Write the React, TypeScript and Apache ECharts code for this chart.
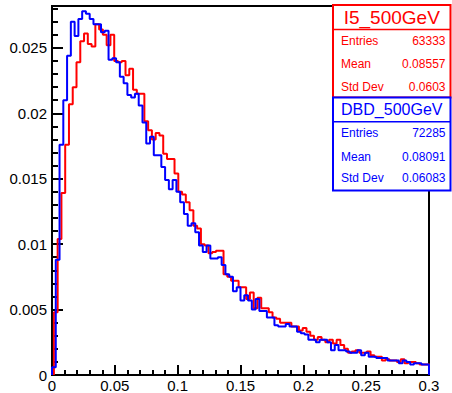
import React, { useEffect, useRef } from "react";
import * as echarts from "echarts";

// Histogram binning (100 bins of width 0.003)
const binWidth = 0.003;
const redBinStart = 0.0015;
const blueBinStart = 0.0;

// I5_500GeV (red) bin contents
const redValues = [
  0.0048, 0.0104, 0.0139, 0.0176, 0.0207, 0.0220, 0.0239, 0.0255, 0.0261, 0.0253,
  0.0251, 0.0268, 0.0264, 0.0260, 0.0252, 0.0260, 0.0240, 0.0239, 0.0240, 0.0229,
  0.0234, 0.0218, 0.0215, 0.0215, 0.0194, 0.0187, 0.0180, 0.0185, 0.0183, 0.0169,
  0.0165, 0.0165, 0.0154, 0.0140, 0.0138, 0.0132, 0.0126, 0.0114, 0.0112, 0.0100,
  0.0099, 0.0093, 0.0094, 0.0095, 0.0095, 0.0077, 0.0075, 0.0072, 0.0072, 0.0067,
  0.0067, 0.0058, 0.0063, 0.0051, 0.0059, 0.0051, 0.0051, 0.0048, 0.0044, 0.0043,
  0.0040, 0.0040, 0.0040, 0.0037, 0.0037, 0.0034, 0.0036, 0.0033, 0.0030, 0.0027,
  0.0029, 0.0027, 0.0025, 0.0027, 0.0024, 0.0027, 0.0023, 0.0020, 0.0017, 0.0018,
  0.0019, 0.0017, 0.0017, 0.0018, 0.0015, 0.0014, 0.0014, 0.0011, 0.0012, 0.0011,
  0.0011, 0.0010, 0.0012, 0.0009, 0.0010, 0.0010, 0.0009, 0.0008, 0.0008, 0.0008,
];

// DBD_500GeV (blue) bin contents
const blueValues = [
  0.0006, 0.0088, 0.0176, 0.0210, 0.0244, 0.0270, 0.0259, 0.0272, 0.0278, 0.0276,
  0.0272, 0.0268, 0.0268, 0.0262, 0.0263, 0.0241, 0.0242, 0.0239, 0.0228, 0.0223,
  0.0214, 0.0212, 0.0215, 0.0206, 0.0193, 0.0177, 0.0182, 0.0168, 0.0168, 0.0159,
  0.0149, 0.0142, 0.0149, 0.0140, 0.0132, 0.0123, 0.0114, 0.0116, 0.0109, 0.0099,
  0.0094, 0.0099, 0.0089, 0.0089, 0.0090, 0.0084, 0.0077, 0.0075, 0.0064, 0.0067,
  0.0057, 0.0061, 0.0057, 0.0050, 0.0058, 0.0049, 0.0049, 0.0044, 0.0044, 0.0038,
  0.0037, 0.0037, 0.0039, 0.0037, 0.0037, 0.0033, 0.0032, 0.0031, 0.0027, 0.0027,
  0.0025, 0.0027, 0.0027, 0.0025, 0.0019, 0.0023, 0.0019, 0.0019, 0.0018, 0.0017,
  0.0017, 0.0019, 0.0015, 0.0017, 0.0014, 0.0014, 0.0013, 0.0013, 0.0013, 0.0011,
  0.0011, 0.0011, 0.0009, 0.0011, 0.0010, 0.0008, 0.0009, 0.0009, 0.0008, 0.0008,
];

// Axis ticks
const xMajorTicks = [0, 0.05, 0.1, 0.15, 0.2, 0.25, 0.3];
const yMajorTicks = [0, 0.005, 0.01, 0.015, 0.02, 0.025];
const xMax = 0.3;
const yMax = 0.0282;

// Stat boxes
const redTitle = "I5_500GeV";
const blueTitle = "DBD_500GeV";
const statLabels = ["Entries", "Mean", "Std Dev"];
const redStats = ["63333", "0.08557", "0.0603"];
const blueStats = ["72285", "0.08091", "0.06083"];

const FONT = "'Liberation Sans', Arial, Helvetica, sans-serif";

function stepPoints(start: number, width: number, values: number[]) {
  const pts: number[][] = [[start, 0]];
  values.forEach((v, i) => {
    pts.push([start + i * width, v]);
    pts.push([start + (i + 1) * width, v]);
  });
  pts.push([start + values.length * width, 0]);
  return pts;
}

function minorTicks(step: number, max: number) {
  const out: number[] = [];
  for (let k = 1; k * step <= max + 1e-9; k++) out.push(+(k * step).toFixed(4));
  return out;
}

function statBox(
  x: number, y: number, w: number, h: number, color: string,
  title: string, titleSize: number, titleY: number, lineY: number,
  rowYs: number[], values: string[]
) {
  const els: any[] = [
    { type: "rect", z: 20, shape: { x, y, width: w, height: h }, style: { fill: "#fff", stroke: color, lineWidth: 2 } },
    { type: "line", z: 21, shape: { x1: x, y1: lineY, x2: x + w, y2: lineY }, style: { stroke: color, lineWidth: 1.5 } },
    {
      type: "text", z: 22, x: x + w / 2, y: titleY,
      style: { text: title, fill: color, fontSize: titleSize, fontFamily: FONT, align: "center", verticalAlign: "middle" },
    },
  ];
  statLabels.forEach((lab, i) => {
    els.push({
      type: "text", z: 22, x: x + 8, y: rowYs[i],
      style: { text: lab, fill: color, fontSize: 12, fontFamily: FONT, align: "left", verticalAlign: "middle" },
    });
    els.push({
      type: "text", z: 22, x: x + w - 5, y: rowYs[i],
      style: { text: values[i], fill: color, fontSize: 12, fontFamily: FONT, align: "right", verticalAlign: "middle" },
    });
  });
  return els;
}

export default function App() {
  const ref = useRef<HTMLDivElement>(null);
  useEffect(() => {
    if (!ref.current) return;
    const chart = echarts.init(ref.current, undefined, { renderer: "svg" });
    const fmt = (v: number) => String(+(+v).toFixed(4));
    const labelStyle = { color: "#000", fontSize: 15, fontFamily: FONT };
    const option: any = {
      animation: false,
      backgroundColor: "#fff",
      grid: {
        left: 52, right: 23, top: 6, bottom: 18,
        containLabel: false, outerBoundsMode: "none",
        show: true, borderColor: "#000", borderWidth: 2, backgroundColor: "transparent",
      },
      xAxis: [
        {
          type: "value", min: 0, max: xMax, position: "bottom",
          axisLine: { show: true, lineStyle: { color: "#000", width: 2 } },
          axisTick: { show: true, inside: true, length: 10, customValues: xMajorTicks, lineStyle: { color: "#000", width: 2 } },
          axisLabel: { show: true, customValues: xMajorTicks, margin: 3, formatter: fmt, ...labelStyle },
          splitLine: { show: false },
        },
        {
          type: "value", min: 0, max: xMax, position: "bottom",
          axisLine: { show: false },
          axisTick: { show: true, inside: true, length: 5, customValues: minorTicks(0.01, xMax), lineStyle: { color: "#000", width: 2 } },
          axisLabel: { show: false },
          splitLine: { show: false },
        },
      ],
      yAxis: [
        {
          type: "value", min: 0, max: yMax, position: "left",
          axisLine: { show: true, lineStyle: { color: "#000", width: 2 } },
          axisTick: { show: true, inside: true, length: 11, customValues: yMajorTicks, lineStyle: { color: "#000", width: 2 } },
          axisLabel: { show: true, customValues: yMajorTicks, margin: 5, formatter: fmt, ...labelStyle },
          splitLine: { show: false },
        },
        {
          type: "value", min: 0, max: yMax, position: "left",
          axisLine: { show: false },
          axisTick: { show: true, inside: true, length: 6, customValues: minorTicks(0.001, 0.028), lineStyle: { color: "#000", width: 2 } },
          axisLabel: { show: false },
          splitLine: { show: false },
        },
      ],
      series: [
        {
          name: redTitle, type: "line", xAxisIndex: 0, yAxisIndex: 0,
          data: stepPoints(redBinStart, binWidth, redValues),
          showSymbol: false, symbol: "none", clip: true,
          lineStyle: { color: "#ff0000", width: 2 }, itemStyle: { color: "#ff0000" },
        },
        {
          name: blueTitle, type: "line", xAxisIndex: 0, yAxisIndex: 0,
          data: stepPoints(blueBinStart, binWidth, blueValues),
          showSymbol: false, symbol: "none", clip: true,
          lineStyle: { color: "#0000ff", width: 2 }, itemStyle: { color: "#0000ff" },
        },
      ],
      graphic: [
        ...statBox(333, 5, 117.5, 92.5, "#ff0000", redTitle, 19, 17, 29.5, [41, 64.3, 87.3], redStats),
        ...statBox(333, 97.5, 117.5, 93, "#0000ff", blueTitle, 16, 109, 121.7, [133.3, 156.7, 178.3], blueStats),
      ],
    };
    chart.setOption(option);
    return () => chart.dispose();
  }, []);
  return (
    <div
      ref={ref}
      style={{ position: "fixed", left: 0, top: 0, width: 452, height: 393, background: "#fff" }}
    />
  );
}
